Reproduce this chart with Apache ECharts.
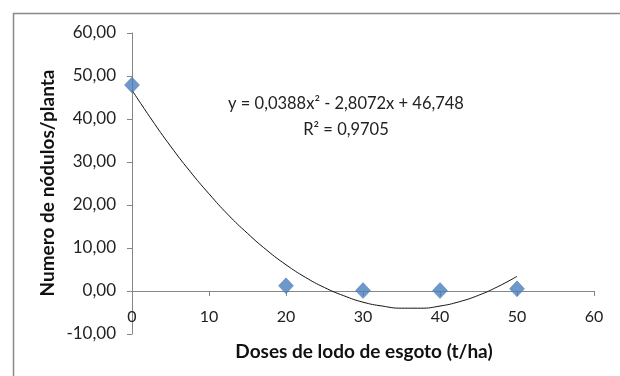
<!DOCTYPE html>
<html>
<head>
<meta charset="utf-8">
<script src="https://cdn.jsdelivr.net/npm/echarts@6/dist/echarts.min.js"></script>
<style>html,body{margin:0;padding:0;background:#fff}#c{width:620px;height:376px}</style>
</head>
<body>
<div id="c"></div>
<script>
// Observed data
var doses = [0, 20, 30, 40, 50];
var nodulos = [47.9, 1.2, 0.1, 0.1, 0.5];
// Trendline values
var trendX = [0, 2.5, 5, 7.5, 10, 12.5, 15, 17.5, 20, 22.5, 25, 27.5, 30, 32.5, 35, 37.5, 40, 42.5, 45, 47.5, 50];
var trendY = [46.7, 40.0, 33.7, 27.9, 22.6, 17.7, 13.4, 9.5, 6.1, 3.2, 0.8, -1.1, -2.6, -3.5, -4.0, -4.0, -3.5, -2.5, -1.0, 1.0, 3.4];
var xTicks = [0, 10, 20, 30, 40, 50, 60];
var yTicks = [-10, 0, 10, 20, 30, 40, 50, 60];
var equationText = 'y = 0,0388x² - 2,8072x + 46,748';
var r2Text = 'R² = 0,9705';
var xTitle = 'Doses de lodo de esgoto (t/ha)';
var yTitle = 'Numero de nódulos/planta';

var FONT = 'Lato, sans-serif';
var chart = echarts.init(document.getElementById('c'));
chart.setOption({
  animation: false,
  grid: {left: 132, right: 26, top: 33, bottom: 42, containLabel: false},
  xAxis: {
    type: 'value', min: xTicks[0], max: xTicks[xTicks.length - 1], interval: 10,
    axisLine: {onZero: true, lineStyle: {color: '#868686', width: 1}},
    axisTick: {show: true, length: 5, lineStyle: {color: '#868686'}},
    axisLabel: {color: '#222', fontSize: 16, fontFamily: FONT, margin: -25},
    splitLine: {show: false}
  },
  yAxis: {
    type: 'value', min: yTicks[0], max: yTicks[yTicks.length - 1], interval: 10,
    axisLine: {show: true, onZero: false, lineStyle: {color: '#868686', width: 1}},
    axisTick: {show: true, length: 5, lineStyle: {color: '#868686'}},
    axisLabel: {color: '#222', fontSize: 17, fontFamily: FONT, margin: 16,
      formatter: function (v) { return v.toFixed(2).replace('.', ','); }},
    splitLine: {show: false}
  },
  series: [
    {
      type: 'line', data: trendX.map(function (x, i) { return [x, trendY[i]]; }),
      smooth: true, symbol: 'none', lineStyle: {color: '#111', width: 1}, z: 2
    },
    {
      type: 'scatter', data: doses.map(function (x, i) { return [x, nodulos[i]]; }),
      symbol: 'diamond', symbolSize: [15, 16],
      itemStyle: {color: '#4a7ebb', borderColor: '#3e6da6', borderWidth: 0.5}, z: 3
    }
  ],
  graphic: [
    {type: 'rect', left: 11, top: 11, shape: {width: 700, height: 500},
      style: {fill: 'none', stroke: '#888', lineWidth: 1.5}, silent: true},
    {type: 'text', x: 346, y: 104, style: {text: equationText, font: '16.5px ' + FONT, fill: '#222', textAlign: 'center', textVerticalAlign: 'middle'}},
    {type: 'text', x: 346, y: 130, style: {text: r2Text, font: '16.5px ' + FONT, fill: '#222', textAlign: 'center', textVerticalAlign: 'middle'}},
    {type: 'text', x: 364, y: 352, style: {text: xTitle, font: 'bold 19px ' + FONT, fill: '#111', textAlign: 'center', textVerticalAlign: 'middle'}},
    {type: 'text', x: 48, y: 183, rotation: Math.PI / 2, style: {text: yTitle, font: 'bold 19px ' + FONT, fill: '#111', textAlign: 'center', textVerticalAlign: 'middle'}}
  ]
});
</script>
</body>
</html>
